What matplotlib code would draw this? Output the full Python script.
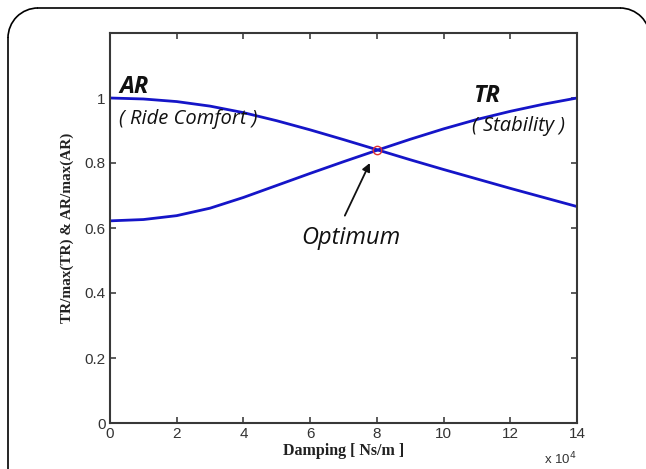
import matplotlib
matplotlib.use("Agg")
import matplotlib.pyplot as plt
from matplotlib.patches import Arc
from matplotlib.lines import Line2D

# damping in units of 1e4 Ns/m
damping = [0, 1, 2, 3, 4, 5, 6, 7, 8, 9, 10, 11, 12, 13, 14]
ar_norm = [1.0, 0.997, 0.989, 0.975, 0.955, 0.930, 0.902, 0.872, 0.841,
           0.810, 0.780, 0.751, 0.722, 0.694, 0.666]
tr_norm = [0.622, 0.626, 0.638, 0.661, 0.694, 0.731, 0.768, 0.804, 0.839,
           0.873, 0.905, 0.934, 0.959, 0.981, 1.0]
opt_x = 8
opt_y = 0.84

xticks = [0, 2, 4, 6, 8, 10, 12, 14]
yticks = [0, 0.2, 0.4, 0.6, 0.8, 1]
yticklabels = ['0', '0.2', '0.4', '0.6', '0.8', '1']

fig = plt.figure(figsize=(6.46, 4.69), dpi=100)

# rounded outer frame, drawn in inches; right and bottom sides run off the picture
tr_ = fig.dpi_scale_trans
fig.add_artist(Line2D([0.38, 6.20], [4.61, 4.61], color='black', lw=1.2, transform=tr_))
fig.add_artist(Line2D([0.08, 0.08], [4.31, -0.1], color='black', lw=1.2, transform=tr_))
fig.add_artist(Arc((0.38, 4.31), 0.6, 0.6, theta1=90, theta2=180,
                   color='black', lw=1.2, transform=tr_))
fig.add_artist(Arc((6.20, 4.31), 0.6, 0.6, theta1=0, theta2=90,
                   color='black', lw=1.2, transform=tr_))

ax = fig.add_axes([110 / 646, 1 - 423 / 469, 467 / 646, 390 / 469])

line_col = '#1515c8'
ax.plot(damping, ar_norm, color=line_col, linewidth=2.0)
ax.plot(damping, tr_norm, color=line_col, linewidth=2.0)
ax.plot([opt_x], [opt_y], 'o', markersize=6, markerfacecolor='none',
        markeredgecolor='#e03030', markeredgewidth=1.0)

ax.set_xlim(0, 14)
ax.set_ylim(0, 1.2)
ax.set_xticks(xticks)
ax.set_yticks(yticks)
ax.set_yticklabels(yticklabels)
ax.tick_params(direction='in', length=4, width=1.2, top=True, right=True,
               colors='#404040', labelsize=11, pad=3)
for sp in ax.spines.values():
    sp.set_color('#383838')
    sp.set_linewidth(1.5)
for lab in ax.get_xticklabels() + ax.get_yticklabels():
    lab.set_color('#333333')
    lab.set_fontfamily('Liberation Sans')

ax.set_xlabel('Damping [ Ns/m ]', fontfamily='Liberation Serif',
              fontweight='bold', fontsize=11.5, color='#222222', labelpad=1)
ax.set_ylabel('TR/max(TR) & AR/max(AR)', fontfamily='Liberation Serif',
              fontweight='bold', fontsize=11, color='#222222', labelpad=8)
ax.text(1.0, -0.093, r'x 10$^4$', transform=ax.transAxes, ha='right',
        va='center', fontsize=9.5, color='#333333', fontfamily='Liberation Sans')

anno = dict(fontfamily='Open Sans', style='italic', color='#111111')
ax.text(0.27, 1.035, 'AR', fontsize=17, fontweight='bold', ha='left',
        va='center', **anno)
ax.text(0.27, 0.936, '( Ride Comfort )', fontsize=14.5, ha='left', va='center', **anno)
ax.text(10.88, 1.007, 'TR', fontsize=17, fontweight='bold', ha='left',
        va='center', **anno)
ax.text(10.85, 0.913, '( Stability )', fontsize=14.5, ha='left', va='center', **anno)

ax.text(7.22, 0.57, 'Optimum', fontsize=17, ha='center', va='center', **anno)
ax.annotate('', xy=(7.79, 0.80), xytext=(7.04, 0.638),
            arrowprops=dict(arrowstyle='-|>', color='#111111', lw=1.3,
                            shrinkA=0, shrinkB=0, mutation_scale=12))

fig.savefig('out.png', dpi=100)
